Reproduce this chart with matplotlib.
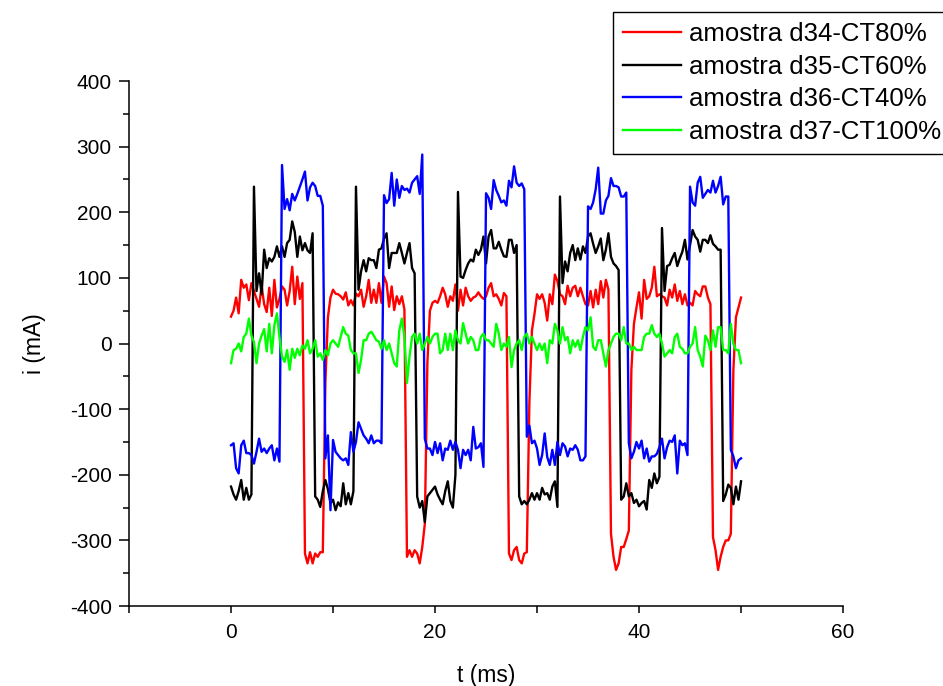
import numpy as np
import matplotlib

matplotlib.use("Agg")
import matplotlib.pyplot as plt
from matplotlib.ticker import MultipleLocator

plt.rcParams["font.family"] = ["Liberation Sans", "DejaVu Sans"]
plt.rcParams["axes.unicode_minus"] = False

# sampling interval of the scope traces (ms)
T_STEP = 0.25

labels = [
    "amostra d34-CT80%",
    "amostra d35-CT60%",
    "amostra d36-CT40%",
    "amostra d37-CT100%",
]
colors = ["#ff0000", "#000000", "#0000ff", "#00ff00"]

# current in mA, one value every T_STEP
d34 = [
    41, 50, 70, 46, 97, 85, 90, 66, 92, 80,
    68, 56, 88, 60, 48, 85, 42, 97, 55, 68,
    87, 82, 58, 80, 117, 60, 102, 68, 92, -320,
    -335, -318, -335, -320, -325, -318, -318, -60, 40, 70,
    82, 76, 75, 72, 67, 78, 58, 66, 58, 76,
    72, 82, 56, 72, 97, 62, 82, 62, 92, 62,
    102, 92, 56, 87, 51, 72, 60, 72, 52, -325,
    -315, -325, -315, -320, -335, -310, -275, -30, 50, 62,
    65, 62, 72, 85, 75, 56, 72, 65, 90, 50,
    82, 58, 85, 72, 65, 70, 72, 78, 72, 68,
    72, 85, 92, 72, 75, 68, 58, 77, 72, -320,
    -330, -315, -310, -330, -335, -320, -318, -90, 20, 45,
    75, 68, 75, 62, 35, 75, 60, 105, 95, 75,
    72, 60, 88, 72, 85, 88, 72, 85, 72, 60,
    58, 80, 55, 82, 60, 95, 70, 97, 82, -290,
    -325, -345, -335, -310, -310, -298, -285, -40, 30, 55,
    78, 38, 97, 68, 72, 85, 117, 72, 75, 72,
    70, 58, 82, 70, 90, 65, 80, 60, 75, 58,
    62, 58, 80, 75, 72, 87, 87, 70, 60, -295,
    -315, -345, -325, -310, -300, -300, -290, -40, 40, 55,
    70,
]

d35 = [
    -218, -230, -238, -225, -208, -238, -220, -238, -230, 239,
    80, 107, 75, 143, 115, 130, 125, 132, 148, 132,
    148, 132, 153, 158, 186, 170, 132, 163, 142, 153,
    142, 138, 168, -233, -238, -249, -225, -208, -222, -243,
    -238, -254, -242, -248, -213, -245, -228, -245, -225, 239,
    82, 110, 127, 110, 130, 127, 127, 115, 143, 145,
    160, 168, 115, 138, 138, 138, 153, 138, 122, 138,
    153, 115, 107, -233, -250, -240, -272, -233, -228, -223,
    -218, -230, -238, -245, -225, -210, -240, -250, -200, 231,
    102, 100, 112, 122, 128, 125, 143, 135, 143, 163,
    122, 163, 173, 145, 145, 155, 143, 133, 132, 158,
    158, 138, 150, -233, -245, -240, -245, -238, -228, -238,
    -228, -238, -220, -230, -228, -238, -218, -210, -249, 224,
    92, 125, 110, 138, 150, 127, 145, 128, 148, 138,
    163, 168, 152, 138, 148, 160, 127, 143, 168, 132,
    122, 118, 112, -238, -233, -213, -233, -228, -243, -238,
    -248, -243, -240, -253, -208, -220, -198, -213, -203, 176,
    80, 118, 120, 130, 138, 118, 130, 140, 158, 128,
    150, 173, 163, 158, 140, 158, 158, 153, 165, 152,
    148, 143, 143, -240, -230, -215, -220, -245, -218, -238,
    -210,
]

d36 = [
    -155, -152, -190, -198, -155, -148, -167, -167, -170, -183,
    -165, -145, -165, -160, -167, -160, -155, -178, -160, -180,
    272, 205, 220, 203, 228, 218, 228, 239, 250, 262,
    218, 238, 245, 240, 225, 225, 210, -175, -140, -254,
    -147, -165, -170, -175, -178, -175, -185, -135, -165, -150,
    -120, -130, -140, -145, -152, -140, -152, -148, -148, -152,
    226, 214, 220, 260, 210, 250, 222, 240, 234, 236,
    230, 245, 250, 255, 228, 288, -145, -160, -160, -170,
    -150, -167, -152, -178, -160, -162, -148, -162, -150, -162,
    -190, -162, -170, -162, -178, -127, -160, -158, -152, -188,
    229, 222, 205, 249, 234, 225, 215, 218, 210, 248,
    238, 270, 245, 240, 244, 235, -142, -125, -152, -148,
    -160, -185, -170, -137, -173, -185, -162, -185, -150, -170,
    -152, -157, -172, -160, -162, -155, -162, -178, -178, -172,
    209, 205, 215, 235, 268, 198, 198, 218, 225, 252,
    240, 240, 238, 224, 224, 230, -152, -175, -165, -150,
    -160, -148, -175, -160, -180, -172, -172, -168, -158, -145,
    -175, -158, -148, -150, -140, -198, -148, -155, -152, -170,
    239, 215, 210, 245, 254, 222, 228, 234, 230, 248,
    230, 240, 254, 212, 224, 224, -162, -172, -190, -178,
    -175,
]

d37 = [
    -30, -10, -8, 0, -12, 10, 15, 38, 12, 2,
    -30, 0, 12, 22, -12, 30, -15, 28, 46, 10,
    -20, -28, -10, -40, -8, -22, -8, -18, -3, -8,
    5, -15, -8, 5, -20, -15, -25, -10, -18, 0,
    5, 0, -5, 10, 25, 15, 12, -10, -15, -15,
    -45, -25, 5, 5, 15, 18, 12, 5, 3, -8,
    5, -10, 0, -15, -30, -35, 20, 38, 10, -60,
    -20, 10, 15, 0, 15, -10, 0, 10, 0, 10,
    15, 15, -15, -10, 15, -10, 15, -10, 20, 5,
    0, 31, 15, 0, 10, 5, -10, -10, 10, 15,
    5, 5, 0, -5, 30, 15, -10, 0, -5, 10,
    -36, -10, 0, 5, -10, 10, 15, 0, 10, 0,
    -10, 0, -10, 0, -30, 5, 0, 30, 20, 0,
    25, 5, 10, -15, 5, -5, 5, -10, 10, 25,
    20, 40, -5, -10, 5, 5, -15, -35, -10, 0,
    10, 15, 15, 5, 25, 0, 0, -10, -5, -10,
    -10, -10, 10, 15, 15, 28, 15, 10, 15, 0,
    -20, -15, -10, -15, 10, 15, -5, -8, -15, -15,
    -5, 0, 25, -10, -20, -35, 12, 5, -10, 20,
    -5, 25, 25, -10, -10, -15, 30, 0, -10, -10,
    -30,
]

series = [d34, d35, d36, d37]
t = np.arange(len(d34)) * T_STEP

fig = plt.figure(figsize=(9.43, 6.86), dpi=100)
ax = fig.add_axes([0.1368, 0.1166, 0.7572, 0.7653])

for y, c, lab in zip(series, colors, labels):
    ax.plot(t, y, color=c, lw=1.7, label=lab)

ax.set_xlim(-10, 60)
ax.set_ylim(-400, 400)
ax.xaxis.set_major_locator(MultipleLocator(20))
ax.xaxis.set_minor_locator(MultipleLocator(10))
ax.yaxis.set_major_locator(MultipleLocator(100))
ax.yaxis.set_minor_locator(MultipleLocator(50))

for side in ("top", "right"):
    ax.spines[side].set_visible(False)
for side in ("left", "bottom"):
    ax.spines[side].set_linewidth(1.1)

ax.tick_params(axis="x", which="both", direction="out", length=5, width=1.1,
               labelsize=15, pad=7)
ax.tick_params(axis="y", which="major", direction="out", length=7.5, width=1.1,
               labelsize=15, pad=5)
ax.tick_params(axis="y", which="minor", direction="out", length=4.5, width=1.1)

ax.set_xlabel("t (ms)", fontsize=16.5)
ax.set_ylabel("i (mA)", fontsize=16.5)
ax.xaxis.set_label_coords(0.5, -0.133)
ax.xaxis.label.set_va("center")
ax.yaxis.set_label_coords(-0.132, 0.5)
ax.yaxis.label.set_va("center")

leg = ax.legend(
    loc="upper left",
    bbox_to_anchor=(613 / 943, 1 - 12 / 686),
    bbox_transform=fig.transFigure,
    fontsize=18.5,
    frameon=True,
    fancybox=False,
    framealpha=1,
    edgecolor="black",
    borderpad=0.4,
    borderaxespad=0,
    handlelength=2.25,
    handletextpad=0.3,
    labelspacing=0.33,
)
leg.get_frame().set_linewidth(1.0)

fig.savefig("out.png", dpi=100)
